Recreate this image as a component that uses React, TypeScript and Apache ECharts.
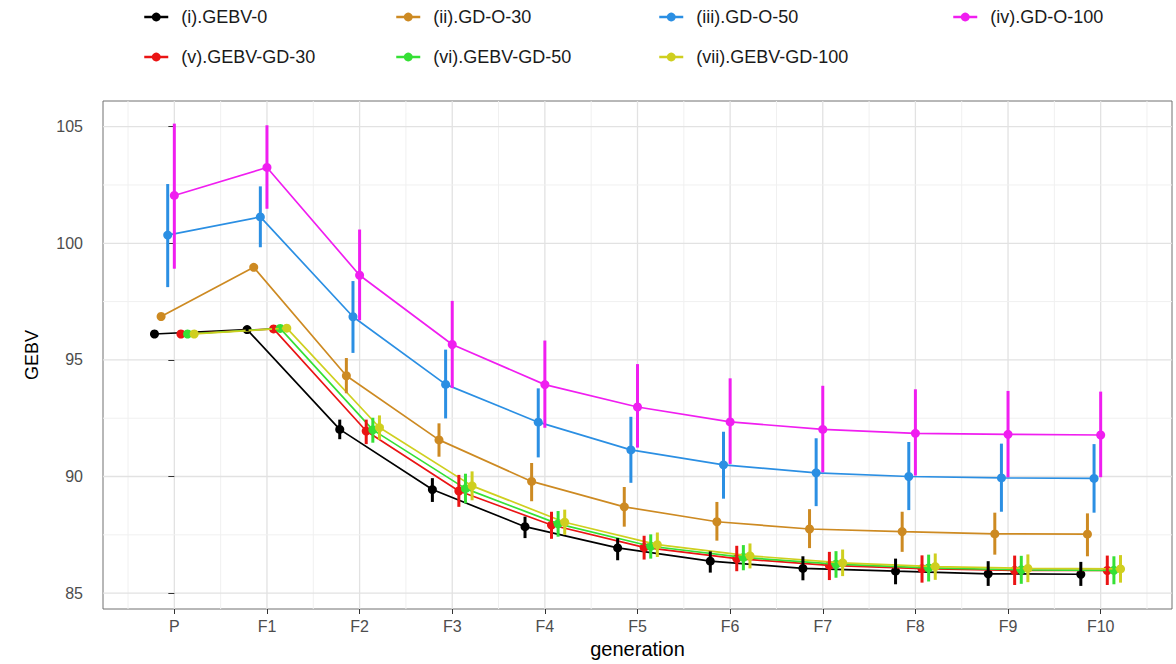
import React, { useEffect, useRef } from "react";
import * as echarts from "echarts";

// ---- data ----
const categories = ["P", "F1", "F2", "F3", "F4", "F5", "F6", "F7", "F8", "F9", "F10"];
const seriesNames = [
  "(i).GEBV-0",
  "(ii).GD-O-30",
  "(iii).GD-O-50",
  "(iv).GD-O-100",
  "(v).GEBV-GD-30",
  "(vi).GEBV-GD-50",
  "(vii).GEBV-GD-100",
];
const seriesColors = ["#000000", "#CD8A22", "#2B8FE3", "#F01EF0", "#EA1414", "#35E035", "#CFCF1F"];

const gebv0Mean = [96.11, 96.3, 92.02, 89.44, 87.85, 86.94, 86.37, 86.06, 85.94, 85.83, 85.81];
const gebv0Lo = [96.05, 96.24, 91.6, 88.91, 87.36, 86.41, 85.88, 85.55, 85.38, 85.31, 85.31];
const gebv0Hi = [96.17, 96.36, 92.44, 89.93, 88.28, 87.36, 86.79, 86.58, 86.48, 86.37, 86.34];

const gdO30Mean = [96.86, 98.97, 94.32, 91.57, 89.79, 88.7, 88.06, 87.75, 87.64, 87.54, 87.53];
const gdO30Lo = [96.8, 98.91, 93.57, 90.85, 88.94, 87.85, 87.25, 86.93, 86.77, 86.65, 86.58];
const gdO30Hi = [96.92, 99.03, 95.08, 92.28, 90.58, 89.55, 88.91, 88.6, 88.49, 88.45, 88.42];

const gdO50Mean = [100.35, 101.13, 96.85, 93.95, 92.33, 91.14, 90.5, 90.16, 90.0, 89.94, 89.92];
const gdO50Lo = [98.12, 99.83, 95.3, 92.49, 90.82, 89.73, 89.05, 88.73, 88.56, 88.49, 88.45];
const gdO50Hi = [102.54, 102.44, 98.38, 95.44, 93.78, 92.56, 91.92, 91.64, 91.48, 91.41, 91.39];

const gdO100Mean = [102.05, 103.25, 98.63, 95.66, 93.94, 92.98, 92.34, 92.02, 91.85, 91.81, 91.78];
const gdO100Lo = [98.91, 101.48, 96.7, 93.8, 92.09, 91.24, 90.54, 90.18, 90.04, 89.97, 89.97];
const gdO100Hi = [105.13, 105.06, 100.59, 97.53, 95.83, 94.82, 94.21, 93.89, 93.74, 93.67, 93.64];

const gebvGd30Mean = [96.11, 96.33, 91.95, 89.38, 87.92, 86.96, 86.48, 86.19, 86.05, 85.97, 85.97];
const gebvGd30Lo = [96.05, 96.27, 91.39, 88.7, 87.33, 86.44, 85.94, 85.56, 85.45, 85.35, 85.35];
const gebvGd30Hi = [96.17, 96.39, 92.44, 90.07, 88.49, 87.46, 87.03, 86.77, 86.62, 86.61, 86.61];

const gebvGd50Mean = [96.11, 96.35, 92.0, 89.48, 87.97, 87.01, 86.53, 86.24, 86.08, 86.0, 85.98];
const gebvGd50Lo = [96.05, 96.29, 91.45, 88.85, 87.42, 86.48, 85.98, 85.66, 85.5, 85.4, 85.38];
const gebvGd50Hi = [96.17, 96.41, 92.52, 90.12, 88.52, 87.52, 87.06, 86.8, 86.65, 86.6, 86.58];

const gebvGd100Mean = [96.11, 96.36, 92.1, 89.6, 88.04, 87.08, 86.6, 86.3, 86.14, 86.06, 86.04];
const gebvGd100Lo = [96.05, 96.3, 91.58, 88.98, 87.5, 86.55, 86.06, 85.73, 85.57, 85.47, 85.45];
const gebvGd100Hi = [96.17, 96.42, 92.62, 90.22, 88.58, 87.6, 87.13, 86.87, 86.7, 86.66, 86.63];

const yTicks = [85, 90, 95, 100, 105];

const groups = [
  { mean: gebv0Mean, lo: gebv0Lo, hi: gebv0Hi },
  { mean: gdO30Mean, lo: gdO30Lo, hi: gdO30Hi },
  { mean: gdO50Mean, lo: gdO50Lo, hi: gdO50Hi },
  { mean: gdO100Mean, lo: gdO100Lo, hi: gdO100Hi },
  { mean: gebvGd30Mean, lo: gebvGd30Lo, hi: gebvGd30Hi },
  { mean: gebvGd50Mean, lo: gebvGd50Lo, hi: gebvGd50Hi },
  { mean: gebvGd100Mean, lo: gebvGd100Lo, hi: gebvGd100Hi },
];

const FONT = "Liberation Sans";

export default function App() {
  const ref = useRef<HTMLDivElement>(null);

  useEffect(() => {
    if (!ref.current) return;
    const chart = echarts.init(ref.current, undefined, { renderer: "svg" });

    const n = groups.length;
    const dodge = 0.5;
    const offset = (k: number) => ((k - (n - 1) / 2) * dodge) / n;

    const xMin = -0.77;
    const xMax = 10.77;
    const yMin = 84.32;
    const yMax = 106.1;

    // gridline positions derived from categories / ticks
    const vMajor = categories.map((_, i) => [i, yTicks[0], 1]);
    const vMinor = categories.concat([""]).map((_, i) => [i - 0.5, yTicks[0], 0]);
    const hMajor = yTicks.map((v) => [0, v, 1]);
    const hMinor = yTicks.slice(1).map((v, i) => [0, (v + yTicks[i]) / 2, 0]);

    const gridSeries: any[] = [
      {
        type: "custom",
        name: "vgrid",
        silent: true,
        z: 0,
        data: vMinor.concat(vMajor),
        encode: { x: 0, y: 1 },
        renderItem: (params: any, api: any) => {
          const p = api.coord([api.value(0), api.value(1)]);
          const cs = params.coordSys;
          const major = api.value(2) === 1;
          return {
            type: "line",
            shape: { x1: p[0], y1: cs.y, x2: p[0], y2: cs.y + cs.height },
            style: { stroke: major ? "#E2E2E2" : "#F0F0F0", lineWidth: major ? 1.3 : 1 },
          };
        },
      },
      {
        type: "custom",
        name: "hgrid",
        silent: true,
        z: 0,
        data: hMinor.concat(hMajor),
        encode: { x: 0, y: 1 },
        renderItem: (params: any, api: any) => {
          const p = api.coord([api.value(0), api.value(1)]);
          const cs = params.coordSys;
          const major = api.value(2) === 1;
          return {
            type: "line",
            shape: { x1: cs.x, y1: p[1], x2: cs.x + cs.width, y2: p[1] },
            style: { stroke: major ? "#E2E2E2" : "#F0F0F0", lineWidth: major ? 1.3 : 1 },
          };
        },
      },
    ];

    const lineSeries = groups.map((g, k) => ({
      type: "line",
      name: seriesNames[k],
      z: 2 + k * 0.01,
      data: g.mean.map((v, j) => [j + offset(k), v]),
      symbol: "circle",
      symbolSize: 9,
      showSymbol: true,
      lineStyle: { width: 1.7, color: seriesColors[k] },
      itemStyle: { color: seriesColors[k] },
      emphasis: { disabled: true },
    }));

    const errSeries = groups.map((g, k) => ({
      type: "custom",
      name: seriesNames[k] + " se",
      z: 3 + k * 0.01,
      silent: true,
      data: g.mean.map((_, j) => [j + offset(k), g.lo[j], g.hi[j]]),
      encode: { x: 0, y: [1, 2] },
      renderItem: (_params: any, api: any) => {
        const a = api.coord([api.value(0), api.value(1)]);
        const b = api.coord([api.value(0), api.value(2)]);
        return {
          type: "line",
          shape: { x1: a[0], y1: a[1], x2: b[0], y2: b[1] },
          style: { stroke: seriesColors[k], lineWidth: 3 },
        };
      },
    }));

    const colLeft = [143, 395, 658, 952];
    const rowTop = [8, 48];
    const legends = seriesNames.map((name, k) => ({
      data: [name],
      left: colLeft[k % 4],
      top: rowTop[Math.floor(k / 4)],
      padding: 0,
      itemWidth: 24,
      itemHeight: 11,
      lineStyle: { width: 2.5 },
      textStyle: { fontFamily: FONT, fontSize: 18, color: "#1a1a1a", padding: [0, 0, 0, 8] },
      selectedMode: false,
    }));

    chart.setOption({
      animation: false,
      backgroundColor: "#ffffff",
      textStyle: { fontFamily: FONT },
      legend: legends,
      grid: {
        left: 103,
        top: 101,
        right: 4,
        bottom: 49,
        show: true,
        borderColor: "#707070",
        borderWidth: 1,
        backgroundColor: "transparent",
      },
      xAxis: {
        type: "value",
        min: xMin,
        max: xMax,
        name: "generation",
        nameLocation: "middle",
        nameGap: 30,
        nameTextStyle: { fontFamily: FONT, fontSize: 20, color: "#000" },
        axisLine: { show: false },
        splitLine: { show: false },
        axisTick: {
          show: true,
          length: 5,
          lineStyle: { color: "#333", width: 1 },
          customValues: categories.map((_, i) => i),
        },
        axisLabel: {
          customValues: categories.map((_, i) => i),
          formatter: (v: number) => categories[Math.round(v)] ?? "",
          fontFamily: FONT,
          fontSize: 16,
          color: "#4d4d4d",
          margin: 9,
        },
      },
      yAxis: {
        type: "value",
        min: yMin,
        max: yMax,
        name: "GEBV",
        nameLocation: "middle",
        nameGap: 62,
        nameTextStyle: { fontFamily: FONT, fontSize: 18, color: "#000" },
        axisLine: { show: false },
        splitLine: { show: false },
        axisTick: {
          show: true,
          length: 6,
          lineStyle: { color: "#333", width: 1 },
          customValues: yTicks,
        },
        axisLabel: {
          customValues: yTicks,
          fontFamily: FONT,
          fontSize: 16,
          color: "#4d4d4d",
          margin: 20,
        },
      },
      series: [...gridSeries, ...lineSeries, ...errSeries],
    });

    return () => chart.dispose();
  }, []);

  return (
    <div
      ref={ref}
      style={{ position: "fixed", left: 0, top: 0, width: 1176, height: 664, background: "#fff" }}
    />
  );
}
